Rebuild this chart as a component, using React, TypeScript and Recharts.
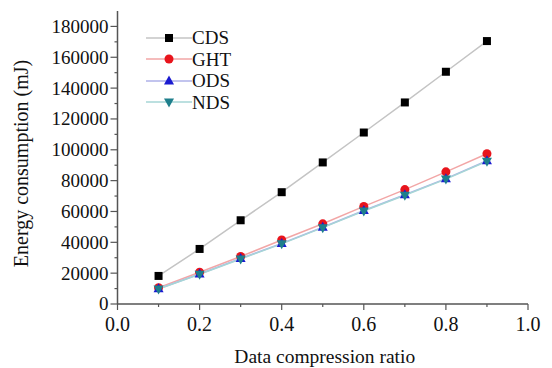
import React from 'react';
import { LineChart, Line, XAxis, YAxis, Legend } from 'recharts';

const ratios = [0.1, 0.2, 0.3, 0.4, 0.5, 0.6, 0.7, 0.8, 0.9];
const cds = [18200, 35700, 54300, 72500, 91800, 111200, 130700, 150600, 170500];
const ght = [10600, 20600, 30800, 41500, 52000, 63300, 74200, 85700, 97400];
const ods = [9900, 19500, 29500, 39300, 49800, 60600, 70800, 81300, 92900];
const nds = [9700, 19300, 29200, 39000, 49500, 60300, 70500, 81000, 92600];

const xTicks = [0, 0.1, 0.2, 0.3, 0.4, 0.5, 0.6, 0.7, 0.8, 0.9, 1.0];
const yTicks = [0, 10000, 20000, 30000, 40000, 50000, 60000, 70000, 80000, 90000, 100000,
  110000, 120000, 130000, 140000, 150000, 160000, 170000, 180000];

const data = ratios.map((r, i) => ({ ratio: r, CDS: cds[i], GHT: ght[i], ODS: ods[i], NDS: nds[i] }));

const FONT = '"Liberation Serif", "Times New Roman", serif';
const AXIS = '#555';

const series = [
  { key: 'CDS', line: '#c4c4c4', mark: '#000000', shape: 'square' },
  { key: 'GHT', line: '#f2a6a6', mark: '#e8141c', shape: 'circle' },
  { key: 'ODS', line: '#aeb0e8', mark: '#1a1ad0', shape: 'up' },
  { key: 'NDS', line: '#a6d6d6', mark: '#1e7f8c', shape: 'down' },
];

function Marker({ cx, cy, shape, color }: any) {
  if (cx == null || cy == null) return null;
  if (shape === 'square') return <rect x={cx - 4} y={cy - 4} width={8} height={8} fill={color} />;
  if (shape === 'circle') return <circle cx={cx} cy={cy} r={4.5} fill={color} />;
  if (shape === 'up') return <polygon points={`${cx},${cy - 5.5} ${cx - 5},${cy + 3.5} ${cx + 5},${cy + 3.5}`} fill={color} />;
  return <polygon points={`${cx},${cy + 5.5} ${cx - 5},${cy - 3.5} ${cx + 5},${cy - 3.5}`} fill={color} />;
}

function XTick({ x, y, payload }: any) {
  const major = Math.round(payload.value * 10) % 2 === 0;
  return (
    <g>
      <line x1={x} x2={x} y1={y} y2={y + (major ? 6 : 3)} stroke={AXIS} strokeWidth={1.2} />
      {major && (
        <text x={x} y={y + 27} textAnchor="middle" fontSize={20} fontFamily={FONT} fill="#111">
          {payload.value.toFixed(1)}
        </text>
      )}
    </g>
  );
}

function YTick({ x, y, payload }: any) {
  const major = payload.value % 20000 === 0;
  return (
    <g>
      <line x1={x} x2={x - (major ? 7 : 3)} y1={y} y2={y} stroke={AXIS} strokeWidth={1.2} />
      {major && (
        <text x={x - 9} y={y} dy="0.34em" textAnchor="end" fontSize={19} fontFamily={FONT} fill="#111">
          {payload.value}
        </text>
      )}
    </g>
  );
}

function LegendBox() {
  return (
    <div style={{ fontFamily: FONT, fontSize: 19, color: '#111', lineHeight: '21.5px' }}>
      {series.map((s) => (
        <div key={s.key} style={{ display: 'flex', alignItems: 'center', height: 21.5 }}>
          <svg width={46} height={16} style={{ display: 'block' }}>
            <line x1={0} x2={46} y1={8} y2={8} stroke={s.line} strokeWidth={1.5} />
            <Marker cx={23} cy={8} shape={s.shape} color={s.mark} />
          </svg>
          <span>{s.key}</span>
        </div>
      ))}
    </div>
  );
}

export default function App() {
  return (
    <div style={{ position: 'absolute', left: 0, top: 0, width: 552, height: 368, background: '#fff' }}>
      <LineChart width={552} height={368} data={data} margin={{ top: 11, right: 24, left: 57.5, bottom: 34 }}>
        <XAxis
          dataKey="ratio"
          type="number"
          domain={[0, 1]}
          ticks={xTicks}
          interval={0}
          height={30}
          tickSize={0}
          tickMargin={0}
          tickLine={false}
          tick={<XTick />}
          axisLine={{ stroke: AXIS, strokeWidth: 1.5 }}
          label={{
            content: ({ viewBox }: any) => (
              <text x={viewBox.x + viewBox.width / 2 + 2} y={363} textAnchor="middle" fontSize={19.5} fontFamily={FONT} fill="#111">
                Data compression ratio
              </text>
            ),
          }}
        />
        <YAxis
          type="number"
          domain={[0, 190000]}
          ticks={yTicks}
          interval={0}
          width={60}
          tickSize={0}
          tickMargin={0}
          tickLine={false}
          tick={<YTick />}
          axisLine={{ stroke: AXIS, strokeWidth: 1.5 }}
          label={{
            content: ({ viewBox }: any) => {
              const cx = 21;
              const cy = viewBox.y + viewBox.height / 2 + 6;
              return (
                <text x={cx} y={cy} transform={`rotate(-90 ${cx} ${cy})`} textAnchor="middle" dominantBaseline="central" fontSize={20} fontFamily={FONT} fill="#111">
                  Energy consumption (mJ)
                </text>
              );
            },
          }}
        />
        <Legend
          layout="vertical"
          align="center"
          verticalAlign="middle"
          content={() => <LegendBox />}
          wrapperStyle={{ left: 146, top: 27, width: 'auto', height: 'auto' }}
        />
        {series.map((s) => (
          <Line
            key={s.key}
            dataKey={s.key}
            stroke={s.line}
            strokeWidth={1.5}
            isAnimationActive={false}
            activeDot={false}
            dot={(p: any) => <Marker key={`${s.key}-${p.index}`} cx={p.cx} cy={p.cy} shape={s.shape} color={s.mark} />}
          />
        ))}
      </LineChart>
    </div>
  );
}
